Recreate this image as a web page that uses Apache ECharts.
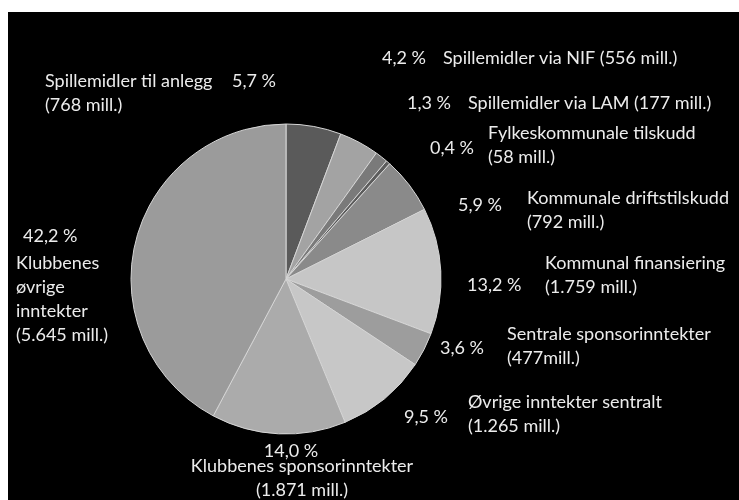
<!DOCTYPE html>
<html>
<head>
<meta charset="utf-8">
<script src="https://cdn.jsdelivr.net/npm/echarts@6/dist/echarts.min.js"></script>
<style>
    html, body { margin: 0; padding: 0; background: #fff; }
    #main { width: 739px; height: 500px; }
</style>
</head>
<body>
<div id="main"></div>
<script>
// kategorier (navn slik de står i figuren, med linjeskift)
const categories = [
    'Spillemidler til anlegg',
    'Spillemidler via NIF',
    'Spillemidler via LAM',
    'Fylkeskommunale tilskudd',
    'Kommunale driftstilskudd',
    'Kommunal finansiering',
    'Sentrale sponsorinntekter',
    'Øvrige inntekter sentralt',
    'Klubbenes sponsorinntekter',
    'Klubbenes\nøvrige\ninntekter'
];
// millioner kroner
const millions = [768, 556, 177, 58, 792, 1759, 477, 1265, 1871, 5645];
const amountLabels = [
    '(768 mill.)', '(556 mill.)', '(177 mill.)', '(58 mill.)', '(792 mill.)',
    '(1.759 mill.)', '(477mill.)', '(1.265 mill.)', '(1.871 mill.)', '(5.645 mill.)'
];
// navn og beløp på samme linje?
const sameLine = [false, true, true, false, false, false, false, false, false, false];

const sliceColors = ['#5a5a5a', '#a3a3a3', '#7a7a7a', '#5c5c5c', '#8a8a8a',
    '#c6c6c6', '#9d9d9d', '#c7c7c7', '#ababab', '#9b9b9b'];

// plassering av etiketter (x, y, align)
const pctPos = [
    [232, 81, 'left'], [382, 58, 'left'], [407, 103, 'left'], [430, 148, 'left'],
    [458, 205, 'left'], [467, 285, 'left'], [440, 348, 'left'], [404, 417, 'left'],
    [291, 451, 'center'], [23, 236, 'left']
];
const namePos = [
    [45, 93, 'left'], [443, 58, 'left'], [468, 103, 'left'], [488, 145, 'left'],
    [527, 210, 'left'], [545, 275, 'left'], [507, 346, 'left'], [468, 414, 'left'],
    [302, 478, 'center'], [16, 299, 'left']
];

const font = 'Lato, "Open Sans", sans-serif';

const data = categories.map((n, i) => ({
    name: n,
    value: millions[i],
    itemStyle: { color: sliceColors[i] }
}));

const layoutFrom = (pos) => (params) => {
    const p = pos[params.dataIndex];
    return { x: p[0], y: p[1], align: p[2], verticalAlign: 'middle' };
};

const chart = echarts.init(document.getElementById('main'));
chart.setOption({
    backgroundColor: '#fff',
    animation: false,
    graphic: [{
        type: 'rect',
        z: -10,
        shape: { x: 8, y: 12, width: 731, height: 488 },
        style: { fill: '#000' }
    }],
    series: [
        {
            type: 'pie',
            center: [286, 279],
            radius: 155,
            startAngle: 90,
            clockwise: true,
            avoidLabelOverlap: false,
            percentPrecision: 1,
            silent: true,
            itemStyle: { borderColor: '#d6d6d6', borderWidth: 1 },
            label: {
                show: true,
                color: '#ececec',
                fontFamily: font,
                fontSize: 18,
                formatter: (p) => p.percent.toFixed(1).replace('.', ',') + ' %'
            },
            labelLine: { show: false },
            labelLayout: layoutFrom(pctPos),
            data: data
        },
        {
            type: 'pie',
            center: [286, 279],
            radius: 155,
            startAngle: 90,
            clockwise: true,
            avoidLabelOverlap: false,
            silent: true,
            itemStyle: { color: 'transparent', borderWidth: 0 },
            label: {
                show: true,
                color: '#ececec',
                fontFamily: font,
                fontSize: 18,
                lineHeight: 24,
                formatter: (p) => p.name + (sameLine[p.dataIndex] ? ' ' : '\n') + amountLabels[p.dataIndex]
            },
            labelLine: { show: false },
            labelLayout: layoutFrom(namePos),
            data: categories.map((n, i) => ({ name: n, value: millions[i] }))
        }
    ]
});
</script>
</body>
</html>
